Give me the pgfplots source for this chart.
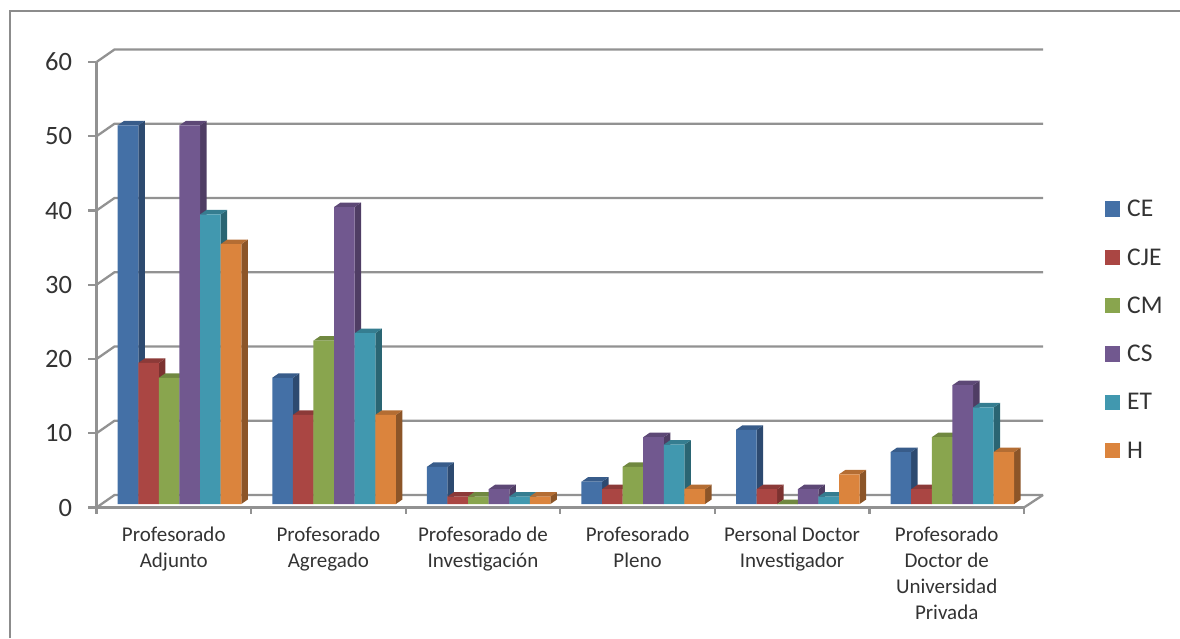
\documentclass[border=0pt]{standalone}
\usepackage{fontspec}
\setmainfont{Carlito}
\usepackage{pgfplots}
\usepackage{pgfplotstable}
\pgfplotsset{compat=1.18}
\definecolor{gridc}{HTML}{929292}
\definecolor{framec}{HTML}{8C8C8C}
\definecolor{txt}{HTML}{333333}
\definecolor{ceF}{HTML}{4470A6}\definecolor{ceS}{HTML}{2D4A70}\definecolor{ceT}{HTML}{385C8A}
\definecolor{cjF}{HTML}{AA4643}\definecolor{cjS}{HTML}{7C3230}\definecolor{cjT}{HTML}{8C3A38}
\definecolor{cmF}{HTML}{89A54E}\definecolor{cmS}{HTML}{627A38}\definecolor{cmT}{HTML}{708840}
\definecolor{csF}{HTML}{71588F}\definecolor{csS}{HTML}{4F3D64}\definecolor{csT}{HTML}{5D4876}
\definecolor{etF}{HTML}{4198AF}\definecolor{etS}{HTML}{2A6573}\definecolor{etT}{HTML}{357D90}
\definecolor{hhF}{HTML}{DB843D}\definecolor{hhS}{HTML}{8C5528}\definecolor{hhT}{HTML}{B46D33}
\pgfplotstableread{
x CE CJE CM CS ET H
0.5 51 19 17 51 39 35
1.5 17 12 22 40 23 12
2.5 5 1 1 2 1 1
3.5 3 2 5 9 8 2
4.5 10 2 0 2 1 4
5.5 7 2 9 16 13 7
}\chartdata
% side and top faces of one series: #1 position in group, #2 column, #3 side, #4 top
\newcommand\facesof[4]{%
  \foreach \c in {0,...,5} {%
    \pgfplotstablegetelem{\c}{#2}\of\chartdata
    \let\v\pgfplotsretval
    \pgfmathsetmacro\xa{(21.2+20.6*#1+154.58*\c)/154.58}%
    \pgfmathsetmacro\xb{\xa+0.13327}%
    \pgfmathsetmacro\xc{\xb+0.04205}%
    \pgfmathsetmacro\xd{\xa+0.04205}%
    \pgfmathsetmacro\yt{\v+0.606}%
    \edef\tmp{%
      \noexpand\addplot[forget plot,draw=none,fill=#3] coordinates {(\xb,0)(\xc,0.606)(\xc,\yt)(\xb,\v)} --cycle;
      \noexpand\addplot[forget plot,draw=none,fill=#4] coordinates {(\xa,\v)(\xb,\v)(\xc,\yt)(\xd,\yt)} --cycle;
    }\tmp
  }%
}
\newcommand\wall[1]{%
  \pgfmathsetmacro\ya{-0.4714+#1}%
  \pgfmathsetmacro\yb{\ya+1.684}%
  \edef\tmp{\noexpand\addplot[forget plot,gridc,line width=2.3pt] coordinates {(0,\ya)(0.1165,\yb)(6.123,\yb)};}\tmp
}
\begin{document}
\begin{tikzpicture}
\useasboundingbox (-96.5pt,-130.5pt) rectangle (1083.5pt,507.5pt);
\draw[framec,line width=2.7pt] (-86.5pt,-130.5pt) -- (-86.5pt,496.5pt) -- (1083.5pt,496.5pt);
\begin{axis}[
  at={(0pt,0pt)},anchor=south west,
  scale only axis,width=927.5pt,height=445.5pt,
  clip=false,
  xmin=0,xmax=6,ymin=-0.4714,ymax=59.5286,
  axis x line*=bottom,axis y line*=left,
  axis line style={gridc,line width=2.3pt,-},
  tick align=outside,
  major tick length=8pt,minor tick length=6pt,
  ytick={-0.4714,9.5286,19.5286,29.5286,39.5286,49.5286,59.5286},
  yticklabels={0,10,20,30,40,50,60},
  xtick={0.5,1.5,2.5,3.5,4.5,5.5},
  minor xtick={0,1,2,3,4,5,6},
  xticklabels={{Profesorado\\Adjunto},{Profesorado\\Agregado},{Profesorado de\\Investigación},{Profesorado\\Pleno},{Personal Doctor\\Investigador},{Profesorado\\Doctor de\\Universidad\\Privada}},
  major x tick style={draw=none},
  minor x tick style={gridc,line width=2.3pt},
  ytick style={gridc,line width=2.3pt},
  xticklabel style={font=\fontsize{21}{26}\selectfont,text=txt,align=center,anchor=north,yshift=-8pt},
  yticklabel style={font=\fontsize{26.5}{28}\selectfont,text=txt,xshift=-13pt,/pgf/number format/assume math mode=true},
  legend style={at={(1.0835,0.697)},anchor=north west,draw=none,fill=none,
    font=\fontsize{25.5}{26}\selectfont,text=txt,row sep=28.3pt,
    nodes={inner sep=1pt}},
  legend cell align=left,
  legend image code/.code={\fill[#1] (0pt,-7.5pt) rectangle (15.6pt,7.8pt);\path (21.6pt,0pt);},
]
\wall{0}\wall{10}\wall{20}\wall{30}\wall{40}\wall{50}\wall{60}
\addplot[forget plot,gridc,line width=2.3pt] coordinates {(6,-0.4714)(6.123,1.2126)};
\facesof{0}{CE}{ceS}{ceT}
\addplot[ybar,bar width=20.6pt,bar shift=-45.8pt,fill=ceF,draw=none] table[x=x,y=CE]{\chartdata};
\addlegendentry{CE}
\facesof{1}{CJE}{cjS}{cjT}
\addplot[ybar,bar width=20.6pt,bar shift=-25.2pt,fill=cjF,draw=none] table[x=x,y=CJE]{\chartdata};
\addlegendentry{CJE}
\facesof{2}{CM}{cmS}{cmT}
\addplot[ybar,bar width=20.6pt,bar shift=-4.6pt,fill=cmF,draw=none] table[x=x,y=CM]{\chartdata};
\addlegendentry{CM}
\facesof{3}{CS}{csS}{csT}
\addplot[ybar,bar width=20.6pt,bar shift=16pt,fill=csF,draw=none] table[x=x,y=CS]{\chartdata};
\addlegendentry{CS}
\facesof{4}{ET}{etS}{etT}
\addplot[ybar,bar width=20.6pt,bar shift=36.6pt,fill=etF,draw=none] table[x=x,y=ET]{\chartdata};
\addlegendentry{ET}
\facesof{5}{H}{hhS}{hhT}
\addplot[ybar,bar width=20.6pt,bar shift=57.2pt,fill=hhF,draw=none] table[x=x,y=H]{\chartdata};
\addlegendentry{H}
\end{axis}
\end{tikzpicture}
\end{document}
